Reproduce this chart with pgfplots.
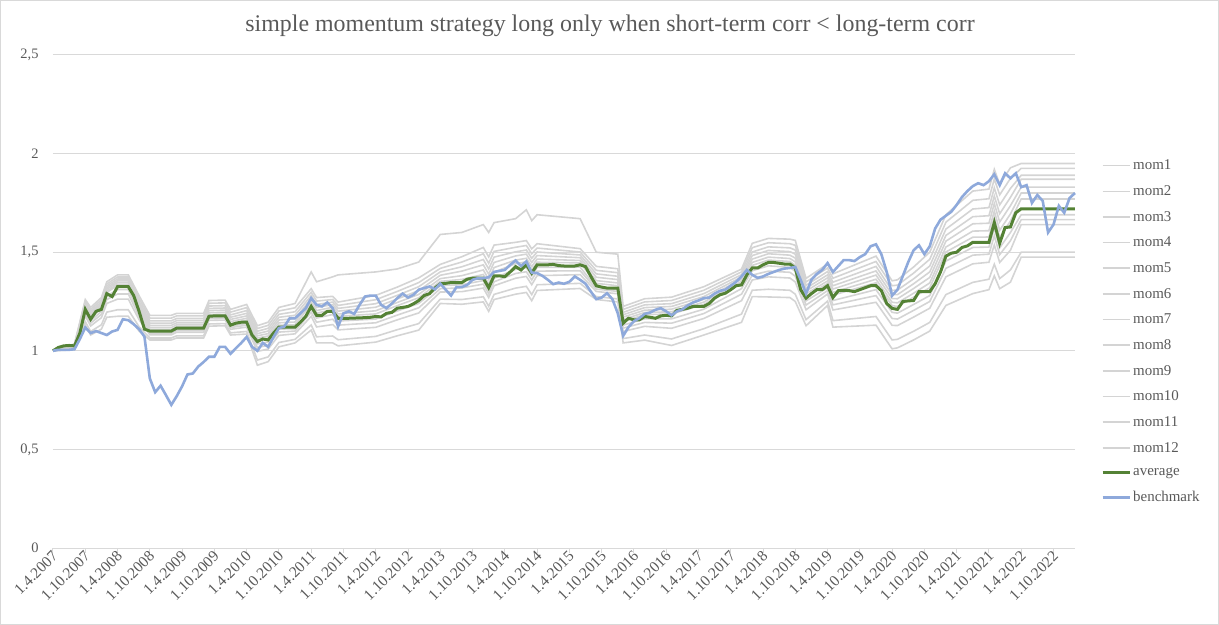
\documentclass[border=0pt]{standalone}
\usepackage{fontspec}
\setmainfont{Liberation Serif}
\usepackage{pgfplots}
\usepackage{pgfplotstable}
\pgfplotsset{compat=1.18}
\definecolor{txt}{HTML}{595959}
\definecolor{gridc}{HTML}{D9D9D9}
\definecolor{momc}{HTML}{D4D4D4}
\definecolor{avgc}{HTML}{548235}
\definecolor{benc}{HTML}{8EA9DB}

\pgfplotstableread{
m avg bench
0 1.000 1.000
1 1.017 1.005
2 1.025 1.005
3 1.027 1.005
4 1.025 1.008
5 1.090 1.060
6 1.210 1.118
7 1.160 1.090
8 1.200 1.100
9 1.210 1.090
10 1.290 1.080
11 1.275 1.098
12 1.325 1.106
13 1.325 1.160
14 1.325 1.155
15 1.280 1.135
16 1.200 1.110
17 1.110 1.072
18 1.100 0.860
19 1.100 0.790
20 1.100 0.823
21 1.100 0.775
22 1.100 0.726
23 1.115 0.770
24 1.115 0.820
25 1.115 0.880
26 1.115 0.885
27 1.115 0.920
28 1.115 0.943
29 1.175 0.970
30 1.177 0.970
31 1.177 1.020
32 1.177 1.020
33 1.130 0.985
34 1.140 1.013
35 1.145 1.040
36 1.145 1.070
37 1.080 1.020
38 1.047 1.000
39 1.060 1.040
40 1.055 1.020
41 1.090 1.070
42 1.120 1.115
43 1.120 1.123
44 1.120 1.165
45 1.120 1.165
46 1.145 1.190
47 1.175 1.216
48 1.225 1.267
49 1.180 1.233
50 1.180 1.225
51 1.200 1.245
52 1.200 1.216
53 1.165 1.123
54 1.165 1.190
55 1.165 1.200
56 1.166 1.187
57 1.167 1.233
58 1.168 1.275
59 1.170 1.280
60 1.174 1.280
61 1.172 1.233
62 1.190 1.216
63 1.195 1.240
64 1.216 1.267
65 1.220 1.290
66 1.225 1.270
67 1.238 1.284
68 1.255 1.310
69 1.280 1.318
70 1.290 1.326
71 1.318 1.312
72 1.340 1.340
73 1.342 1.310
74 1.346 1.280
75 1.346 1.323
76 1.346 1.323
77 1.363 1.334
78 1.368 1.360
79 1.368 1.368
80 1.368 1.368
81 1.320 1.373
82 1.380 1.400
83 1.380 1.405
84 1.376 1.410
85 1.400 1.436
86 1.427 1.458
87 1.410 1.430
88 1.436 1.453
89 1.394 1.397
90 1.436 1.394
91 1.436 1.380
92 1.436 1.360
93 1.438 1.338
94 1.432 1.346
95 1.430 1.340
96 1.430 1.350
97 1.430 1.377
98 1.436 1.360
99 1.427 1.340
100 1.377 1.300
101 1.330 1.262
102 1.323 1.270
103 1.318 1.292
104 1.318 1.262
105 1.318 1.190
106 1.140 1.076
107 1.165 1.120
108 1.157 1.150
109 1.157 1.165
110 1.174 1.187
111 1.170 1.194
112 1.165 1.208
113 1.177 1.216
114 1.180 1.200
115 1.177 1.180
116 1.205 1.200
117 1.210 1.210
118 1.216 1.230
119 1.225 1.245
120 1.225 1.255
121 1.225 1.267
122 1.240 1.270
123 1.267 1.290
124 1.284 1.304
125 1.292 1.310
126 1.310 1.330
127 1.330 1.350
128 1.334 1.377
129 1.385 1.410
130 1.420 1.385
131 1.420 1.370
132 1.436 1.377
133 1.448 1.390
134 1.448 1.400
135 1.444 1.410
136 1.440 1.417
137 1.440 1.420
138 1.420 1.425
139 1.310 1.360
140 1.267 1.290
141 1.290 1.360
142 1.310 1.390
143 1.310 1.410
144 1.330 1.445
145 1.270 1.400
146 1.305 1.430
147 1.307 1.460
148 1.305 1.460
149 1.300 1.455
150 1.310 1.475
151 1.320 1.490
152 1.330 1.530
153 1.330 1.540
154 1.305 1.490
155 1.240 1.400
156 1.215 1.280
157 1.210 1.310
158 1.250 1.380
159 1.253 1.450
160 1.255 1.510
161 1.300 1.535
162 1.300 1.490
163 1.300 1.530
164 1.340 1.620
165 1.400 1.665
166 1.480 1.685
167 1.495 1.705
168 1.500 1.740
169 1.524 1.780
170 1.532 1.810
171 1.550 1.835
172 1.550 1.850
173 1.550 1.840
174 1.550 1.860
175 1.650 1.895
176 1.545 1.840
177 1.625 1.900
178 1.628 1.875
179 1.700 1.900
180 1.720 1.830
181 1.720 1.840
182 1.720 1.750
183 1.720 1.790
184 1.720 1.760
185 1.720 1.600
186 1.720 1.640
187 1.720 1.735
188 1.720 1.700
189 1.720 1.775
190 1.720 1.800
}\mainT

\pgfplotstableread{
m r1 r2 r3 r4 r5 r6 r7 r8 r9 r10 r11 r12
0 1.000 1.000 1.000 1.000 1.000 1.000 1.000 1.000 1.000 1.000 1.000 1.000
4 1.035 1.033 1.032 1.030 1.029 1.027 1.026 1.023 1.020 1.017 1.009 1.005
6 1.260 1.251 1.243 1.235 1.228 1.221 1.215 1.202 1.190 1.176 1.148 1.130
7 1.220 1.209 1.199 1.190 1.182 1.173 1.166 1.152 1.140 1.126 1.098 1.080
9 1.270 1.259 1.249 1.240 1.232 1.223 1.216 1.200 1.185 1.168 1.132 1.110
10 1.350 1.339 1.329 1.320 1.312 1.303 1.296 1.278 1.260 1.240 1.196 1.170
12 1.385 1.374 1.364 1.355 1.347 1.338 1.331 1.310 1.288 1.262 1.208 1.175
14 1.385 1.374 1.364 1.355 1.347 1.338 1.331 1.310 1.288 1.262 1.208 1.175
16 1.280 1.266 1.252 1.240 1.229 1.218 1.208 1.190 1.175 1.158 1.122 1.100
18 1.180 1.166 1.152 1.140 1.129 1.118 1.108 1.096 1.089 1.081 1.065 1.055
22 1.180 1.166 1.152 1.140 1.129 1.118 1.108 1.096 1.089 1.081 1.065 1.055
23 1.190 1.177 1.164 1.153 1.142 1.132 1.123 1.110 1.103 1.094 1.076 1.065
28 1.190 1.177 1.164 1.153 1.142 1.132 1.123 1.110 1.103 1.094 1.076 1.065
29 1.255 1.241 1.227 1.215 1.204 1.193 1.183 1.170 1.163 1.154 1.136 1.125
32 1.257 1.243 1.229 1.217 1.206 1.195 1.185 1.172 1.165 1.156 1.138 1.127
33 1.210 1.196 1.182 1.170 1.159 1.148 1.138 1.125 1.118 1.109 1.091 1.080
36 1.235 1.219 1.204 1.190 1.177 1.165 1.154 1.139 1.130 1.120 1.098 1.085
38 1.127 1.113 1.099 1.087 1.076 1.065 1.055 1.035 1.017 0.997 0.953 0.927
40 1.145 1.129 1.114 1.100 1.087 1.075 1.064 1.044 1.028 1.009 0.969 0.945
42 1.220 1.202 1.185 1.170 1.156 1.142 1.130 1.110 1.095 1.078 1.042 1.020
45 1.240 1.218 1.198 1.180 1.163 1.146 1.132 1.112 1.100 1.086 1.058 1.040
48 1.400 1.315 1.297 1.280 1.265 1.249 1.236 1.213 1.195 1.175 1.131 1.105
49 1.350 1.270 1.252 1.235 1.220 1.204 1.191 1.166 1.145 1.121 1.071 1.040
52 1.375 1.276 1.260 1.247 1.234 1.221 1.209 1.184 1.160 1.133 1.075 1.040
53 1.385 1.247 1.230 1.215 1.201 1.187 1.175 1.151 1.130 1.106 1.056 1.025
60 1.400 1.281 1.259 1.239 1.221 1.203 1.187 1.161 1.142 1.119 1.073 1.044
64 1.415 1.323 1.301 1.281 1.263 1.245 1.229 1.202 1.181 1.157 1.107 1.076
68 1.450 1.370 1.346 1.325 1.305 1.286 1.269 1.240 1.218 1.192 1.138 1.105
72 1.590 1.438 1.418 1.400 1.383 1.366 1.352 1.330 1.315 1.298 1.262 1.240
76 1.600 1.477 1.450 1.426 1.404 1.381 1.362 1.335 1.319 1.300 1.260 1.236
80 1.640 1.524 1.492 1.463 1.436 1.410 1.387 1.356 1.338 1.318 1.274 1.248
81 1.600 1.476 1.444 1.415 1.388 1.362 1.339 1.308 1.290 1.270 1.226 1.200
82 1.650 1.536 1.504 1.475 1.448 1.422 1.399 1.368 1.350 1.330 1.286 1.260
86 1.670 1.550 1.525 1.502 1.481 1.460 1.442 1.413 1.392 1.368 1.318 1.287
88 1.715 1.559 1.534 1.511 1.490 1.469 1.451 1.422 1.401 1.377 1.327 1.296
89 1.660 1.517 1.492 1.469 1.448 1.427 1.409 1.380 1.359 1.335 1.285 1.254
90 1.690 1.543 1.521 1.501 1.483 1.465 1.449 1.423 1.404 1.381 1.335 1.306
98 1.670 1.518 1.501 1.486 1.472 1.458 1.446 1.424 1.406 1.386 1.342 1.316
101 1.500 1.428 1.408 1.390 1.373 1.356 1.342 1.323 1.313 1.301 1.275 1.260
105 1.490 1.416 1.396 1.378 1.361 1.344 1.330 1.311 1.301 1.289 1.263 1.248
106 1.225 1.210 1.195 1.183 1.171 1.159 1.149 1.130 1.115 1.098 1.062 1.040
110 1.264 1.248 1.233 1.219 1.206 1.194 1.183 1.162 1.144 1.124 1.080 1.054
115 1.272 1.255 1.239 1.225 1.211 1.198 1.187 1.162 1.140 1.114 1.060 1.027
121 1.325 1.307 1.290 1.275 1.261 1.247 1.235 1.211 1.189 1.164 1.112 1.080
128 1.414 1.400 1.386 1.374 1.363 1.352 1.342 1.315 1.287 1.254 1.186 1.144
130 1.545 1.523 1.501 1.483 1.465 1.448 1.433 1.406 1.384 1.359 1.307 1.275
133 1.570 1.548 1.527 1.509 1.492 1.475 1.460 1.431 1.404 1.375 1.312 1.273
137 1.566 1.543 1.522 1.503 1.485 1.468 1.453 1.423 1.398 1.369 1.307 1.270
138 1.560 1.535 1.511 1.490 1.470 1.451 1.434 1.403 1.378 1.349 1.287 1.250
140 1.367 1.349 1.332 1.317 1.303 1.289 1.277 1.253 1.232 1.208 1.158 1.127
144 1.440 1.420 1.402 1.385 1.370 1.354 1.341 1.320 1.305 1.288 1.252 1.230
145 1.390 1.368 1.348 1.330 1.313 1.296 1.282 1.255 1.233 1.207 1.153 1.120
153 1.480 1.453 1.428 1.405 1.384 1.363 1.345 1.310 1.280 1.246 1.174 1.130
156 1.355 1.330 1.306 1.285 1.265 1.246 1.229 1.195 1.164 1.129 1.055 1.010
157 1.360 1.333 1.308 1.285 1.264 1.243 1.225 1.191 1.161 1.128 1.058 1.015
160 1.425 1.394 1.365 1.340 1.316 1.292 1.272 1.235 1.205 1.171 1.099 1.055
163 1.500 1.464 1.430 1.400 1.372 1.344 1.320 1.280 1.250 1.216 1.144 1.100
166 1.690 1.652 1.617 1.585 1.556 1.526 1.501 1.455 1.418 1.375 1.285 1.230
171 1.810 1.763 1.719 1.680 1.644 1.607 1.576 1.524 1.485 1.441 1.347 1.290
174 1.820 1.771 1.726 1.685 1.647 1.609 1.577 1.526 1.490 1.449 1.363 1.310
175 1.920 1.871 1.826 1.785 1.747 1.709 1.677 1.623 1.583 1.537 1.439 1.380
176 1.845 1.791 1.740 1.695 1.653 1.611 1.575 1.522 1.488 1.448 1.366 1.315
178 1.928 1.874 1.823 1.778 1.736 1.694 1.658 1.600 1.558 1.510 1.410 1.348
180 1.950 1.925 1.890 1.870 1.830 1.800 1.770 1.690 1.665 1.640 1.500 1.475
190 1.950 1.925 1.890 1.870 1.830 1.800 1.770 1.690 1.665 1.640 1.500 1.475
}\momT

\begin{document}
\begin{tikzpicture}
\draw[gridc, line width=1bp] (0.5bp,0.5bp) rectangle (1218.5bp,624.5bp);
\node[text=txt, font=\fontsize{24}{28}\selectfont] at (610bp,599bp) {simple momentum strategy long only when short-term corr < long-term corr};
\begin{axis}[
  at={(53bp,77bp)}, anchor=south west,
  scale only axis, width=1022bp, height=493bp,
  xmin=0, xmax=190, ymin=0, ymax=2.5,
  axis x line*=bottom, axis y line*=left,
  x axis line style={draw=gridc, line width=1bp, -},
  y axis line style={draw=none},
  xtick={0,6,...,186},
  xticklabels={1.4.2007,1.10.2007,1.4.2008,1.10.2008,1.4.2009,1.10.2009,1.4.2010,1.10.2010,1.4.2011,1.10.2011,1.4.2012,1.10.2012,1.4.2013,1.10.2013,1.4.2014,1.10.2014,1.4.2015,1.10.2015,1.4.2016,1.10.2016,1.4.2017,1.10.2017,1.4.2018,1.10.2018,1.4.2019,1.10.2019,1.4.2020,1.10.2020,1.4.2021,1.10.2021,1.4.2022,1.10.2022},
  xtick align=outside,
  x tick style={draw=gridc, line width=1bp},
  major tick length=5bp,
  xticklabel style={rotate=45, anchor=east, text=txt, font=\fontsize{15.5}{17}\selectfont, inner sep=1bp, yshift=-2bp, xshift=2bp},
  ytick={0,0.5,1,1.5,2,2.5},
  yticklabels={0,{0,5},1,{1,5},2,{2,5}},
  y tick style={draw=none},
  yticklabel style={text=txt, font=\fontsize{14.5}{16}\selectfont, xshift=-11bp},
  ymajorgrids, grid style={draw=gridc, line width=1bp},
  clip=false,
  legend style={at={(1,0.439)}, anchor=west, xshift=23bp, draw=none, fill=none,
    font=\fontsize{15}{17}\selectfont, text=txt, row sep=10.3bp},
  legend cell align=left,
  legend image code/.code={\draw[#1] (0bp,0bp) -- (27bp,0bp);},
]
\addplot[momc, line width=1.6bp] table[x=m, y=r1] {\momT};
\addplot[momc, line width=1.6bp] table[x=m, y=r2] {\momT};
\addplot[momc, line width=1.6bp] table[x=m, y=r3] {\momT};
\addplot[momc, line width=1.6bp] table[x=m, y=r4] {\momT};
\addplot[momc, line width=1.6bp] table[x=m, y=r5] {\momT};
\addplot[momc, line width=1.6bp] table[x=m, y=r6] {\momT};
\addplot[momc, line width=1.6bp] table[x=m, y=r7] {\momT};
\addplot[momc, line width=1.6bp] table[x=m, y=r8] {\momT};
\addplot[momc, line width=1.6bp] table[x=m, y=r9] {\momT};
\addplot[momc, line width=1.6bp] table[x=m, y=r10] {\momT};
\addplot[momc, line width=1.6bp] table[x=m, y=r11] {\momT};
\addplot[momc, line width=1.6bp] table[x=m, y=r12] {\momT};
\addplot[avgc, line width=3bp] table[x=m, y=avg] {\mainT};
\addplot[benc, line width=2.6bp] table[x=m, y=bench] {\mainT};
\legend{mom1,mom2,mom3,mom4,mom5,mom6,mom7,mom8,mom9,mom10,mom11,mom12,average,benchmark}
\end{axis}
\end{tikzpicture}
\end{document}
